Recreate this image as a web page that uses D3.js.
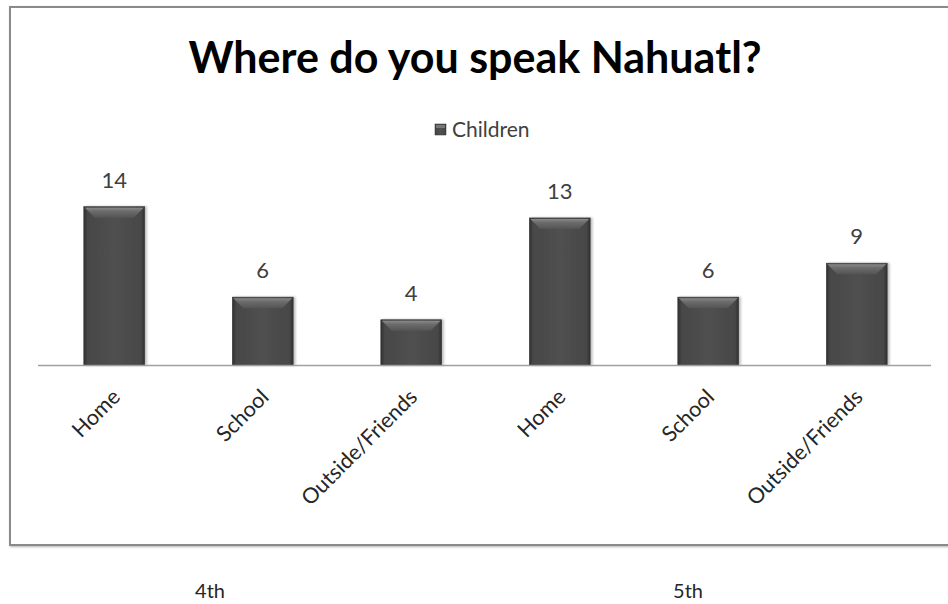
<!DOCTYPE html>
<html>
<head>
<meta charset="utf-8">
<script src="https://cdn.jsdelivr.net/npm/d3@7"></script>
<style>
  html, body { margin: 0; padding: 0; background: #ffffff; }
  svg { display: block; }
</style>
</head>
<body>
<svg id="chart" width="948" height="604"></svg>
<script>
// Chart data
const title = "Where do you speak Nahuatl?";
const seriesName = "Children";
const categories = ["Home", "School", "Outside/Friends", "Home", "School", "Outside/Friends"];
const children = [14, 6, 4, 13, 6, 9];
const grades = ["4th", "5th"];

const W = 948, H = 604;
const svg = d3.select("#chart");
const defs = svg.append("defs");

// Bar body: darker edges, lighter middle
const body = defs.append("linearGradient").attr("id", "barBody")
  .attr("x1", "0%").attr("x2", "100%").attr("y1", "0%").attr("y2", "0%");
[[0, "#2f2f2f"], [0.06, "#474747"], [0.5, "#505050"], [0.94, "#474747"], [1, "#2f2f2f"]]
  .forEach(([o, c]) => body.append("stop").attr("offset", o).attr("stop-color", c));

// Bevel on top of each bar
const bevel = defs.append("linearGradient").attr("id", "barBevel")
  .attr("x1", "0%").attr("x2", "0%").attr("y1", "0%").attr("y2", "100%");
[[0, "#8a8a8a"], [0.35, "#6c6c6c"], [1, "#545454"]]
  .forEach(([o, c]) => bevel.append("stop").attr("offset", o).attr("stop-color", c));

const shadow = defs.append("filter").attr("id", "barShadow")
  .attr("x", "-20%").attr("y", "-20%").attr("width", "140%").attr("height", "140%");
shadow.append("feDropShadow").attr("dx", 2).attr("dy", 0).attr("stdDeviation", 1.2)
  .attr("flood-color", "#000").attr("flood-opacity", 0.25);

const frameShadow = defs.append("filter").attr("id", "frameShadow")
  .attr("x", "-5%").attr("y", "-5%").attr("width", "110%").attr("height", "110%");
frameShadow.append("feDropShadow").attr("dx", 1).attr("dy", 1).attr("stdDeviation", 0.8)
  .attr("flood-color", "#000").attr("flood-opacity", 0.3);

// Chart frame (runs off the right edge)
svg.append("rect")
  .attr("x", 10).attr("y", 7).attr("width", W + 20).attr("height", 538)
  .attr("fill", "#ffffff").attr("stroke", "#8a8a8a").attr("stroke-width", 2)
  .attr("filter", "url(#frameShadow)");

// Scales
const x = d3.scaleBand()
  .domain(d3.range(categories.length))
  .range([40, 931])
  .paddingInner(0.59)
  .paddingOuter(0.295);

const y = d3.scaleLinear().domain([0, 16]).range([365, 184]);

const font = "Lato, 'Open Sans', sans-serif";

// Title
svg.append("text")
  .attr("x", 475).attr("y", 73)
  .attr("text-anchor", "middle")
  .attr("font-family", font).attr("font-weight", "bold").attr("font-size", 43)
  .attr("fill", "#000")
  .text(title);

// Legend
const legend = svg.append("g").attr("transform", "translate(435,124)");
legend.append("rect").attr("width", 11).attr("height", 11)
  .attr("fill", "url(#barBody)").attr("stroke", "#333").attr("stroke-width", 0.5);
legend.append("rect").attr("x", 1).attr("y", 1).attr("width", 9).attr("height", 3)
  .attr("fill", "#777");
legend.append("text")
  .attr("x", 17).attr("y", 12.5)
  .attr("font-family", font).attr("font-size", 21).attr("fill", "#404040")
  .text(seriesName);

// Bars
const bars = svg.append("g").selectAll("g.bar")
  .data(children)
  .join("g").attr("class", "bar");

bars.append("rect")
  .attr("x", (d, i) => x(i))
  .attr("y", d => y(d))
  .attr("width", x.bandwidth())
  .attr("height", d => y(0) - y(d))
  .attr("fill", "url(#barBody)")
  .attr("stroke", "#3a3a3a").attr("stroke-width", 0.6)
  .attr("filter", "url(#barShadow)");

const bevelH = 11;
bars.append("path")
  .attr("d", (d, i) => {
    const x0 = x(i), x1 = x(i) + x.bandwidth(), t = y(d);
    return `M${x0 + 1},${t + 1} L${x1 - 1},${t + 1} L${x1 - bevelH},${t + bevelH} L${x0 + bevelH},${t + bevelH} Z`;
  })
  .attr("fill", "url(#barBevel)");

// Value labels
svg.append("g").selectAll("text")
  .data(children)
  .join("text")
  .attr("x", (d, i) => x(i) + x.bandwidth() / 2)
  .attr("y", d => y(d) - 19)
  .attr("text-anchor", "middle")
  .attr("font-family", font).attr("font-size", 22).attr("fill", "#404040")
  .text(d => d);

// Category axis line
svg.append("line")
  .attr("x1", 38).attr("x2", 931)
  .attr("y1", y(0) + 0.5).attr("y2", y(0) + 0.5)
  .attr("stroke", "#a0a0a0").attr("stroke-width", 1.6);

// Rotated category labels
svg.append("g").selectAll("text")
  .data(categories)
  .join("text")
  .attr("transform", (d, i) => `translate(${x(i) + x.bandwidth() / 2 + 2},${y(0) + 28}) rotate(-45)`)
  .attr("text-anchor", "end")
  .attr("dy", "0.35em")
  .attr("font-family", font).attr("font-size", 21.5).attr("fill", "#262626")
  .text(d => d);

// Grade group labels below the frame
const gradeX = [210, 688];
svg.append("g").selectAll("text")
  .data(grades)
  .join("text")
  .attr("x", (d, i) => gradeX[i])
  .attr("y", 598)
  .attr("text-anchor", "middle")
  .attr("font-family", font).attr("font-size", 20).attr("fill", "#262626")
  .text(d => d);
</script>
</body>
</html>
